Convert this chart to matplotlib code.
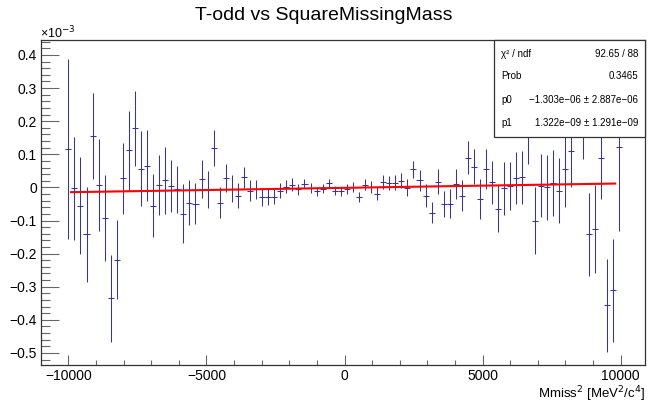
'''
T-odd asymmetry vs squared missing mass, ROOT-style plot
with a linear fit and a stats box
'''

import numpy as np
import matplotlib
matplotlib.use("Agg")
import matplotlib.pyplot as plt
from matplotlib.ticker import MultipleLocator, FuncFormatter
from matplotlib.patches import Rectangle

plt.rcParams['font.family'] = ['Liberation Sans', 'DejaVu Sans']

# bin layout (92 bins across the missing-mass range)
n_bins = 92
x_first, x_last = -10000, 9950
bin_centers = np.linspace(x_first, x_last, n_bins)
bin_half = (x_last - x_first) / (n_bins - 1) / 2

# T-odd values and errors, in units of 1e-3
t_odd = [0.117, -0.003, -0.055, -0.142, 0.156, 0.008, -0.092, -0.335, -0.218, 0.027,
         0.112, 0.178, 0.057, 0.065, -0.055, 0.008, 0.021, 0.004, -0.006, -0.079,
         -0.046, -0.049, 0.026, -0.006, 0.119, -0.046, 0.028, -0.004, -0.025, 0.030,
         -0.010, -0.006, -0.028, -0.028, -0.028, -0.010, 0.002, 0.008, -0.006, 0.011,
         -0.002, -0.012, -0.004, 0.012, -0.010, -0.012, -0.004, 0.001, -0.030, 0.008,
         0.000, -0.019, 0.017, 0.013, 0.014, 0.020, -0.001, 0.055, 0.021, -0.025,
         -0.076, 0.017, -0.050, -0.049, 0.011, -0.025, 0.090, 0.063, -0.035, 0.056,
         0.015, -0.064, -0.003, 0.005, 0.029, 0.031, 0.160, -0.100, 0.005, 0.000,
         0.014, -0.010, 0.057, 0.111, 0.320, 0.200, -0.142, -0.126, 0.088, -0.356,
         -0.311, 0.121]
t_odd_err = [0.272, 0.155, 0.147, 0.143, 0.130, 0.139, 0.129, 0.131, 0.120, 0.107,
             0.119, 0.114, 0.113, 0.107, 0.096, 0.090, 0.100, 0.078, 0.070, 0.089,
             0.067, 0.061, 0.058, 0.057, 0.053, 0.047, 0.042, 0.040, 0.037, 0.031,
             0.031, 0.028, 0.027, 0.026, 0.023, 0.022, 0.020, 0.019, 0.016, 0.013,
             0.014, 0.013, 0.014, 0.012, 0.014, 0.013, 0.015, 0.014, 0.015, 0.017,
             0.018, 0.020, 0.021, 0.021, 0.022, 0.023, 0.026, 0.026, 0.031, 0.034,
             0.033, 0.038, 0.039, 0.043, 0.045, 0.047, 0.050, 0.054, 0.060, 0.061,
             0.064, 0.071, 0.081, 0.072, 0.078, 0.080, 0.090, 0.101, 0.095, 0.099,
             0.100, 0.099, 0.117, 0.111, 0.100, 0.115, 0.125, 0.133, 0.124, 0.141,
             0.155, 0.253]

# fit results
p0, p0_err = -1.303e-06, 2.887e-06
p1, p1_err = 1.322e-09, 1.291e-09
fit_range = (-9900, 9800)
stats_labels = ['\u03c7\u00b2 / ndf', 'Prob', 'p0', 'p1']
stats_values = ['92.65 / 88', '0.3465',
                '\u22121.303e\u221206 \u00b1 2.887e\u221206',
                '1.322e\u221209 \u00b1 1.291e\u221209']

W, H = 649, 404


def fx(x):
    return x / W


def fy(y):
    return 1 - y / H


fig = plt.figure(figsize=(W / 100, H / 100), dpi=100)
# frame: left 41, right 645, top 40, bottom 365 (pixels)
ax = fig.add_axes([fx(41), fy(365), (645 - 41) / W, (365 - 40) / H])

ax.errorbar(bin_centers, t_odd, yerr=t_odd_err, xerr=bin_half, fmt='none',
            ecolor='#3434a4', elinewidth=0.75, capsize=0, zorder=2)

fit_x = np.array(fit_range)
fit_y = (p0 + p1 * fit_x) * 1e3
ax.plot(fit_x, fit_y, color='#ff0000', lw=1.5, zorder=3)

ax.set_xlim(-10990, 10880)
ax.set_ylim(-0.5365, 0.4453)

ax.xaxis.set_major_locator(MultipleLocator(5000))
ax.xaxis.set_minor_locator(MultipleLocator(1000))
ax.yaxis.set_major_locator(MultipleLocator(0.1))
ax.yaxis.set_minor_locator(MultipleLocator(0.02))


def fmt_num(v, pos):
    if abs(v) < 1e-9:
        return '0'
    s = ('%g' % round(v, 4))
    return s.replace('-', '\u2212')


ax.xaxis.set_major_formatter(FuncFormatter(fmt_num))
ax.yaxis.set_major_formatter(FuncFormatter(fmt_num))

ax.tick_params(axis='x', which='major', direction='in', length=7.2, width=0.8,
               color='#666666', labelsize=10, pad=3)
ax.tick_params(axis='x', which='minor', direction='in', length=3.6, width=0.8,
               color='#666666')
ax.tick_params(axis='y', which='major', direction='in', length=13, width=0.8,
               color='#666666', labelsize=10, pad=3)
ax.tick_params(axis='y', which='minor', direction='in', length=6.5, width=0.8,
               color='#666666')
for sp in ax.spines.values():
    sp.set_color('#333333')
    sp.set_linewidth(0.9)

# stats box
box = Rectangle((fx(494), fy(137)), (645 - 494) / W, (137 - 40) / H,
                transform=fig.transFigure, facecolor='white',
                edgecolor='#333333', lw=0.9, zorder=10)
fig.patches.append(box)
row_y = [54, 76, 100, 123]
for lab, val, yy in zip(stats_labels, stats_values, row_y):
    fig.text(fx(501), fy(yy), lab, fontsize=7, ha='left', va='center', zorder=11)
    fig.text(fx(638), fy(yy), val, fontsize=7, ha='right', va='center', zorder=11)

fig.text(fx(324), fy(15), 'T-odd vs SquareMissingMass', fontsize=14,
         ha='center', va='center')
fig.text(fx(40), fy(33), '\u00d710$^{\u22123}$', fontsize=9,
         ha='left', va='center')
fig.text(fx(645), fy(394), 'Mmiss$^{2}$ [MeV$^{2}$/c$^{4}$]', fontsize=9.5,
         ha='right', va='center')

fig.savefig('out.png', dpi=100)
